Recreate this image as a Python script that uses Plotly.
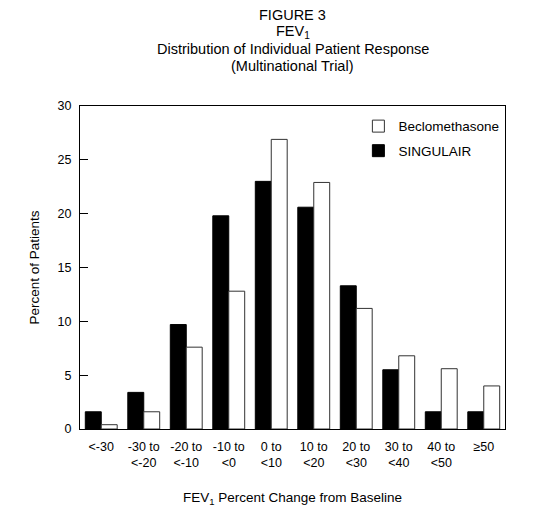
import plotly.graph_objects as go

categories = ["&lt;-30", "-30 to<br>&lt;-20", "-20 to<br>&lt;-10", "-10 to<br>&lt;0", "0 to<br>&lt;10",
              "10 to<br>&lt;20", "20 to<br>&lt;30", "30 to<br>&lt;40", "40 to<br>&lt;50", "≥50"]
singulair = [1.6, 3.4, 9.7, 19.8, 23.0, 20.6, 13.3, 5.5, 1.6, 1.6]
beclomethasone = [0.4, 1.6, 7.6, 12.8, 26.9, 22.9, 11.2, 6.8, 5.6, 4.0]

FONT = "Liberation Sans, Arial, Helvetica, sans-serif"

fig = go.Figure()
fig.add_trace(go.Bar(x=categories, y=singulair, name="SINGULAIR", legendgroup="s", legendrank=2,
                     marker=dict(color="black", line=dict(color="black", width=1))))
fig.add_trace(go.Bar(x=categories, y=beclomethasone, name="Beclomethasone", legendgroup="b",
                     legendrank=1,
                     marker=dict(color="white", line=dict(color="#333333", width=1))))

# page body has an 8px margin: figure is placed at (8, 8) in the window
PLOT_BOTTOM_REF = 429.0
PLOT_H = 323.0

title_lines = ["FIGURE 3", "FEV<sub>1</sub>", "Distribution of Individual Patient Response",
               "(Multinational Trial)"]
title_y = [15, 32, 49, 66]
annotations = []
for t, yy in zip(title_lines, title_y):
    annotations.append(dict(text=t, xref="paper", yref="paper", x=0.5,
                            y=(PLOT_BOTTOM_REF - yy) / PLOT_H, xanchor="center", yanchor="middle",
                            showarrow=False, font=dict(size=14.5, color="black", family=FONT)))
annotations.append(dict(text="FEV<sub>1</sub> Percent Change from Baseline", xref="paper", yref="paper",
                        x=0.5, y=(PLOT_BOTTOM_REF - 498) / PLOT_H, xanchor="center", yanchor="middle",
                        showarrow=False, font=dict(size=13.5, color="black", family=FONT)))

fig.update_layout(
    width=526, height=501,
    margin=dict(l=72, r=29, t=98, b=80),
    paper_bgcolor="white", plot_bgcolor="white",
    font=dict(family=FONT, size=12, color="black"),
    barmode="group", bargap=0.25, bargroupgap=0,
    showlegend=True,
    legend=dict(x=0.655, y=0.985, xanchor="left", yanchor="top", traceorder="grouped",
                tracegroupgap=4, font=dict(size=13.5, family=FONT), bgcolor="rgba(0,0,0,0)"),
    annotations=annotations,
)
fig.update_yaxes(range=[0, 30], dtick=5, ticks="inside", ticklen=8, tickcolor="black",
                 showline=True, linecolor="black", linewidth=1, mirror=True, showgrid=False,
                 zeroline=False, tickfont=dict(size=12.5), ticklabelstandoff=5,
                 title=dict(text="Percent of Patients", font=dict(size=13.5), standoff=14))
fig.update_xaxes(showline=True, linecolor="black", linewidth=1, mirror=True, ticks="",
                 showgrid=False, tickfont=dict(size=12.5), ticklabelstandoff=6)

fig.write_html("out.html")
